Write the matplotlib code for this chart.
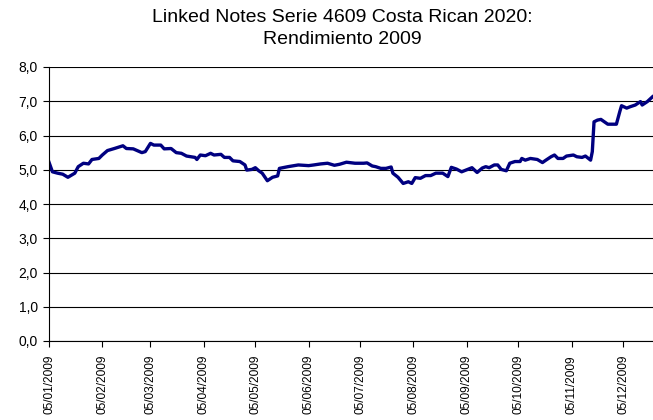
import matplotlib
matplotlib.use("Agg")
import matplotlib.pyplot as plt
import matplotlib.dates as mdates
from matplotlib.ticker import FuncFormatter
import pandas as pd

plt.rcParams['font.family'] = ['Liberation Sans', 'DejaVu Sans']

# days since 05/01/2009 and yield (%)
day_offset = [0, 2, 5, 8, 11, 15, 17, 20, 23, 25, 29, 31, 34, 38, 43, 45, 49, 54, 56, 59,
              61, 63, 65, 67, 71, 74, 77, 80, 85, 86, 88, 91, 94, 96, 100, 102, 105, 107,
              111, 114, 115, 118, 120, 122, 124, 127, 130, 133, 134, 139, 145, 151, 154,
              158, 162, 166, 169, 173, 178, 183, 185, 188, 190, 193, 196, 199, 200, 203,
              206, 209, 211, 213, 216, 219, 222, 225, 229, 232, 234, 237, 240, 243, 246,
              249, 252, 254, 256, 259, 261, 263, 266, 268, 271, 274, 275, 277, 280, 284,
              287, 289, 292, 294, 296, 299, 301, 305, 307, 310, 312, 315, 316, 317, 319,
              321, 323, 325, 330, 332, 333, 336, 338, 341, 344, 345, 348, 351]
yield_pct = [5.22, 4.94, 4.90, 4.87, 4.78, 4.90, 5.09, 5.19, 5.17, 5.30, 5.33, 5.43, 5.56,
             5.62, 5.70, 5.62, 5.61, 5.50, 5.53, 5.77, 5.72, 5.72, 5.72, 5.61, 5.62, 5.50,
             5.48, 5.40, 5.36, 5.30, 5.43, 5.41, 5.48, 5.43, 5.45, 5.36, 5.36, 5.26, 5.24,
             5.14, 4.99, 5.01, 5.06, 4.97, 4.90, 4.68, 4.78, 4.82, 5.04, 5.09, 5.14, 5.12,
             5.14, 5.17, 5.19, 5.13, 5.16, 5.22, 5.19, 5.19, 5.20, 5.11, 5.09, 5.04, 5.04,
             5.08, 4.90, 4.78, 4.60, 4.65, 4.60, 4.77, 4.75, 4.83, 4.83, 4.90, 4.90, 4.80,
             5.07, 5.02, 4.94, 5.00, 5.06, 4.92, 5.05, 5.09, 5.06, 5.14, 5.14, 5.01, 4.97,
             5.19, 5.24, 5.24, 5.33, 5.28, 5.33, 5.30, 5.21, 5.28, 5.38, 5.43, 5.33, 5.33,
             5.40, 5.43, 5.38, 5.36, 5.40, 5.28, 5.53, 6.40, 6.45, 6.47, 6.40, 6.33, 6.33,
             6.70, 6.87, 6.80, 6.84, 6.89, 6.99, 6.89, 6.99, 7.13]

start = pd.Timestamp('2009-01-05')
dates = start + pd.to_timedelta(day_offset, unit='D')

fig = plt.figure(figsize=(6.53, 4.2), dpi=100)
ax = fig.add_axes([49 / 653, 1 - 341 / 420, 1 - 49 / 653, (341 - 67) / 420])

ax.plot(dates, yield_pct, color='#000080', linewidth=2.4, solid_joinstyle='round')

ax.set_ylim(0, 8)
ax.set_yticks(range(0, 9))
ax.yaxis.set_major_formatter(FuncFormatter(lambda v, p: f"{v:.1f}".replace('.', ',')))
ax.grid(axis='y', color='black', linewidth=0.8)
ax.set_axisbelow(True)

ax.set_xlim(start, start + pd.Timedelta(days=351.3))
ax.xaxis.set_major_locator(mdates.MonthLocator(bymonthday=5))
ax.xaxis.set_major_formatter(mdates.DateFormatter('%d/%m/%Y'))
plt.setp(ax.get_xticklabels(), rotation=90)

for s in ['top', 'right']:
    ax.spines[s].set_visible(False)
for s in ['left', 'bottom']:
    ax.spines[s].set_color('black')
    ax.spines[s].set_linewidth(0.8)
ax.tick_params(axis='both', length=4, width=0.8, color='black')
ax.tick_params(axis='y', labelsize=10, pad=4)
ax.tick_params(axis='x', labelsize=8.6, pad=6)

fig.text(0.524, 1 - 18 / 420, 'Linked Notes Serie 4609 Costa Rican 2020:', ha='center', va='center', fontsize=14)
fig.text(0.524, 1 - 40 / 420, 'Rendimiento 2009', ha='center', va='center', fontsize=14)

fig.savefig('out.png', dpi=100)
